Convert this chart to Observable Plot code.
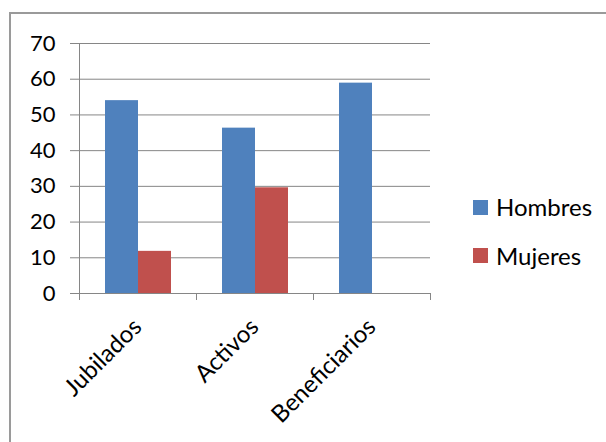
<!DOCTYPE html>
<html>
<head>
<meta charset="utf-8">
<script src="https://cdn.jsdelivr.net/npm/d3@7"></script>
<script src="https://cdn.jsdelivr.net/npm/@observablehq/plot@0.6"></script>
<style>
  html, body { margin: 0; padding: 0; background: #fff; overflow: hidden; }
  #chart { position: relative; width: 606px; height: 442px; font-family: Lato, sans-serif; }
  #chart .box { position: absolute; left: 9px; top: 12px; width: 660px; height: 500px; border: 2px solid #9a9a9a; box-sizing: border-box; }
  #chart svg { position: absolute; left: 0; top: 0; }
  #chart .item { position: absolute; left: 473px; display: flex; align-items: center; font-size: 24px; color: #000; line-height: 1; }
  #chart .sw { width: 15px; height: 15px; margin-right: 8px; }
</style>
</head>
<body>
<div id="chart"><div class="box"></div></div>
<script>
// Categories and series
const categories = ["Jubilados", "Activos", "Beneficiarios"];
const series = ["Hombres", "Mujeres"];
const hombres = [54.0, 46.3, 58.9];
const mujeres = [11.8, 29.6, 0];
const yTicks = [0, 10, 20, 30, 40, 50, 60, 70];
const colors = ["#4F81BD", "#C0504D"];

const data = categories.flatMap((c, i) => [
  {category: c, series: series[0], value: hombres[i]},
  {category: c, series: series[1], value: mujeres[i]}
]);

const axisGray = "#868686";

const chart = Plot.plot({
  width: 606,
  height: 442,
  marginLeft: 79,
  marginRight: 176,
  marginTop: 43,
  marginBottom: 149,
  style: {fontFamily: "Lato, sans-serif", background: "transparent", color: "#000"},
  fx: {domain: categories, padding: 0, axis: null},
  x: {domain: series, paddingInner: 0, paddingOuter: 0.75, axis: null},
  y: {domain: [0, 70], axis: null},
  color: {domain: series, range: colors},
  marks: [
    Plot.gridY(yTicks, {stroke: axisGray, strokeOpacity: 1}),
    Plot.barY(data, {fx: "category", x: "series", y: "value", fill: "series"}),
    // horizontal axis line
    Plot.ruleY([0], {stroke: axisGray}),
    // vertical axis line
    Plot.frame({anchor: "left", facetAnchor: "left", stroke: axisGray}),
    // category boundary ticks below the axis
    Plot.frame({anchor: "left", stroke: axisGray, insetTop: 250, insetBottom: -6}),
    Plot.frame({anchor: "right", facetAnchor: "right", stroke: axisGray, insetTop: 250, insetBottom: -6}),
    Plot.axisY(yTicks, {tickSize: 9, tickPadding: 15, stroke: axisGray, fill: "#000", fontSize: 22, label: null}),
    Plot.text(categories, {
      fx: d => d, text: d => d, frameAnchor: "bottom",
      rotate: -45, textAnchor: "end", dx: 5, dy: 35, fontSize: 24, fill: "#000"
    })
  ]
});

const root = document.getElementById("chart");
root.appendChild(chart);

// Legend
series.forEach((s, i) => {
  const item = document.createElement("div");
  item.className = "item";
  item.style.top = (195 + i * 48.5) + "px";
  const sw = document.createElement("span");
  sw.className = "sw";
  sw.style.background = colors[i];
  const label = document.createElement("span");
  label.textContent = s;
  item.appendChild(sw);
  item.appendChild(label);
  root.appendChild(item);
});
</script>
</body>
</html>
